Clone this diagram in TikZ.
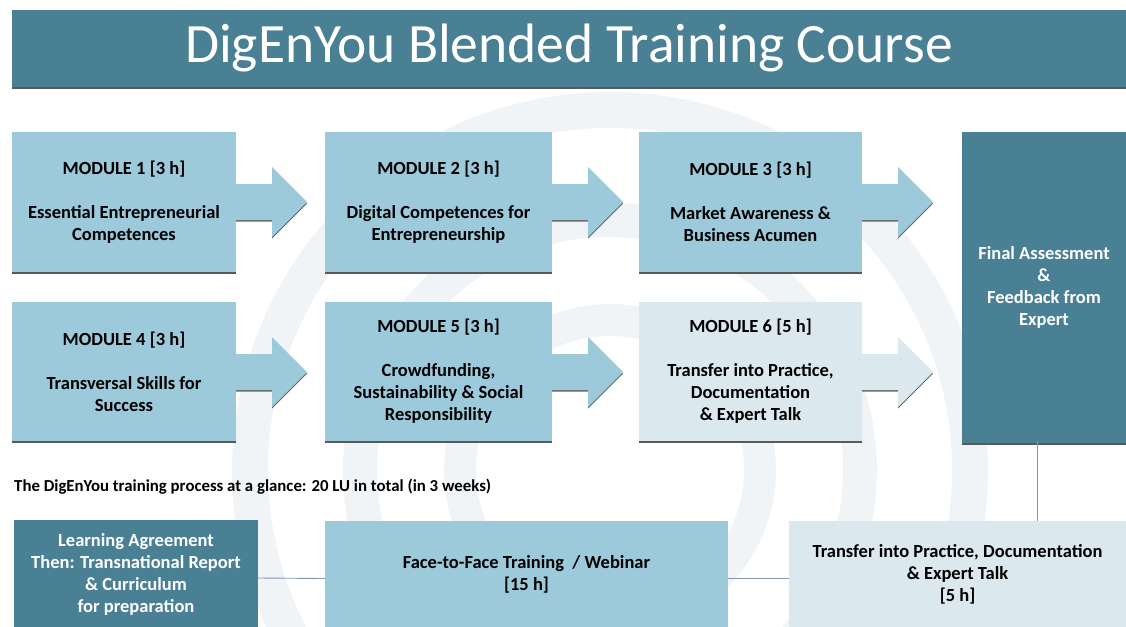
\documentclass[tikz,border=0pt]{standalone}
\usepackage{fontspec}
\setmainfont{Carlito}
\usetikzlibrary{shadows}
\definecolor{tealbox}{HTML}{4A8094}
\definecolor{lightbox}{HTML}{9DCADA}
\definecolor{palebox}{HTML}{DBE9EF}
\definecolor{linkline}{HTML}{8597B0}
\definecolor{watermark}{HTML}{F1F4F7}
\newcommand{\bodyfont}{\fontsize{18.5}{22}\selectfont\bfseries}

\tikzset{
  module/.style={rectangle,fill=lightbox,align=center,inner sep=0pt,font=\bodyfont,
    drop shadow={shadow xshift=0pt,shadow yshift=-2pt,fill=black!65,opacity=1}},
  darkmodule/.style={module,fill=tealbox,text=white},
  palemodule/.style={module,fill=palebox},
  link/.style={linkline,line width=0.9pt},
  pics/blockarrow/.style={code={
    \fill[black!60,shift={(0,1.6)}] (0,-18) -- (42,-18) -- (42,-35) -- (77,0)
      -- (42,35) -- (42,18) -- (0,18) -- cycle;
    \fill[#1] (0,-18) -- (42,-18) -- (42,-35) -- (77,0)
      -- (42,35) -- (42,18) -- (0,18) -- cycle;
  }},
}

\begin{document}
\begin{tikzpicture}[x=1pt,y=-1pt]
   \useasboundingbox (0,0) rectangle (1126,626);
   % faint logo in the back
   \begin{scope}
     \clip (0,88) rectangle (1126,626);
     \draw[watermark,line width=36pt] (610,470) circle[radius=360];
     \draw[watermark,line width=34pt] (610,470) circle[radius=250];
     \draw[watermark,line width=32pt] (610,470) circle[radius=150];
   \end{scope}
   % block arrows
   \pic at (230,202) {blockarrow=lightbox};
   \pic at (546,202) {blockarrow=lightbox};
   \pic at (856,202) {blockarrow=lightbox};
   \pic at (230,372) {blockarrow=lightbox};
   \pic at (546,372) {blockarrow=lightbox};
   \pic at (856,372) {blockarrow=palebox};
   % title
   \node (title) at (569,48.5) [darkmodule,minimum width=1114pt,minimum height=77pt,
     font=\fontsize{55.5}{60}\selectfont] {DigEnYou Blended Training Course};
   % modules
   \node (m1) at (124,202) [module,minimum width=224pt,minimum height=140pt]
     {MODULE 1 [3 h]\\[\baselineskip]Essential Entrepreneurial\\Competences};
   \node (m2) at (438.5,202) [module,minimum width=227pt,minimum height=140pt]
     {MODULE 2 [3 h]\\[\baselineskip]Digital Competences for\\Entrepreneurship};
   \node (m3) at (750.5,202) [module,minimum width=223pt,minimum height=140pt]
     {MODULE 3 [3 h]\\[\baselineskip]Market Awareness \&\\Business Acumen};
   \node (m4) at (124,371.5) [module,minimum width=224pt,minimum height=139pt]
     {MODULE 4 [3 h]\\[\baselineskip]Transversal Skills for\\Success};
   \node (m5) at (438.5,371.5) [module,minimum width=227pt,minimum height=139pt]
     {MODULE 5 [3 h]\\[\baselineskip]Crowdfunding,\\Sustainability \& Social\\Responsibility};
   \node (m6) at (750.5,371.5) [palemodule,minimum width=223pt,minimum height=139pt]
     {MODULE 6 [5 h]\\[\baselineskip]Transfer into Practice,\\Documentation\\\& Expert Talk};
   \node (fin) at (1044,287.5) [darkmodule,minimum width=164pt,minimum height=311pt]
     {Final Assessment\\\&\\Feedback from\\Expert};
   % process
   \node (glance) at (14,487) [anchor=west,inner sep=0pt,font=\fontsize{16.8}{20}\selectfont\bfseries]
     {The DigEnYou training process at a glance: 20 LU in total (in 3 weeks)};
   \node (la) at (136,574) [darkmodule,minimum width=244pt,minimum height=108pt]
     {Learning Agreement\\Then: Transnational Report\\\& Curriculum\\for preparation};
   \node (ff) at (526.5,574.5) [module,minimum width=403pt,minimum height=107pt]
     {Face-to-Face Training~~/ Webinar\\{[15 h]}};
   \node (tr) at (957.5,574.5) [palemodule,minimum width=337pt,minimum height=107pt]
     {Transfer into Practice, Documentation\\\& Expert Talk\\{[5 h]}};
   \draw[link] ([yshift=-4pt]la.east) -- ([yshift=-4pt]ff.west);
   \draw[link] ([yshift=-4pt]ff.east) -- ([yshift=-4pt]tr.west);
   \draw[link] ([xshift=-7pt,yshift=2pt]fin.south) -- ([xshift=-7pt]fin.south |- tr.north);
\end{tikzpicture}
\end{document}
